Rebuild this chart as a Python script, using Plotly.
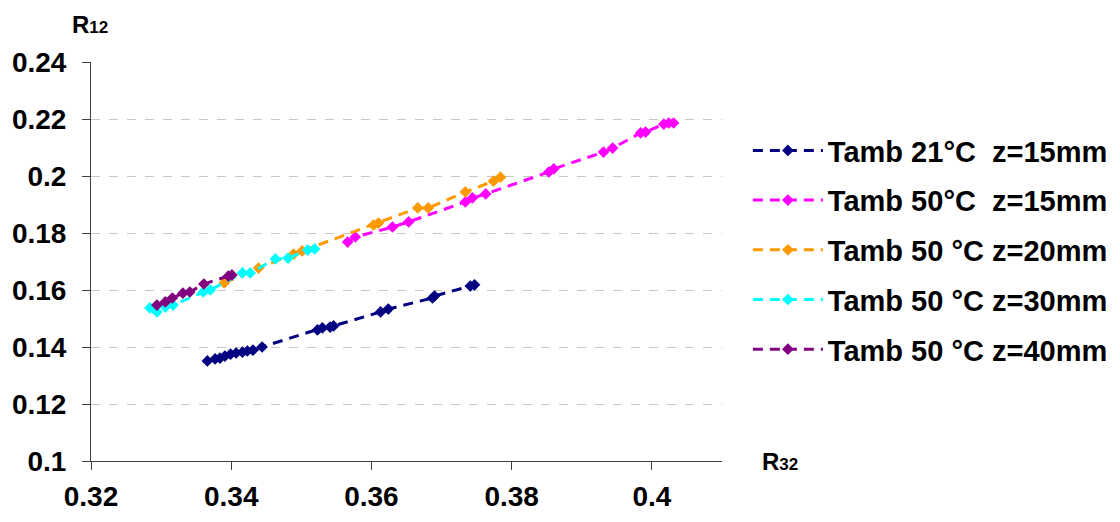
import plotly.graph_objects as go

# ---- data (R32, R12) ----
names = [
    "Tamb 21°C\u00a0\u00a0z=15mm",
    "Tamb 50°C\u00a0\u00a0z=15mm",
    "Tamb 50 °C z=20mm",
    "Tamb 50 °C z=30mm",
    "Tamb 50 °C z=40mm",
]
colors = ["#000080", "#FF00FF", "#FF9900", "#00FFFF", "#800080"]

x_21_15 = [0.3366, 0.3377, 0.3384, 0.3391, 0.3399, 0.3407, 0.3416, 0.3423, 0.3431, 0.3444,
           0.3523, 0.3530, 0.3541, 0.3546, 0.3613, 0.3624, 0.3687, 0.3690, 0.3741, 0.3747]
y_21_15 = [0.1351, 0.1358, 0.1361, 0.1368, 0.1375, 0.1379, 0.1382, 0.1386, 0.1389, 0.1400,
           0.1460, 0.1467, 0.1470, 0.1474, 0.1523, 0.1533, 0.1572, 0.1579, 0.1614, 0.1618]

x_50_15 = [0.3566, 0.3577, 0.3630, 0.3653, 0.3734, 0.3744, 0.3763, 0.3853, 0.3860,
           0.3931, 0.3944, 0.3984, 0.3991, 0.4017, 0.4024, 0.4031]
y_50_15 = [0.1768, 0.1786, 0.1821, 0.1839, 0.1909, 0.1923, 0.1937, 0.2014, 0.2025,
           0.2084, 0.2098, 0.2151, 0.2154, 0.2182, 0.2186, 0.2186]

x_50_20 = [0.3390, 0.3439, 0.3489, 0.3501, 0.3603, 0.3610, 0.3666, 0.3681, 0.3734, 0.3774, 0.3784]
y_50_20 = [0.1625, 0.1677, 0.1726, 0.1737, 0.1828, 0.1835, 0.1888, 0.1888, 0.1944, 0.1982, 0.1996]

x_50_30 = [0.3284, 0.3294, 0.3306, 0.3317, 0.3360, 0.3370, 0.3416, 0.3427, 0.3463, 0.3481, 0.3509, 0.3519]
y_50_30 = [0.1537, 0.1523, 0.1540, 0.1547, 0.1593, 0.1600, 0.1660, 0.1660, 0.1709, 0.1712, 0.1740, 0.1744]

x_50_40 = [0.3294, 0.3306, 0.3316, 0.3331, 0.3341, 0.3361, 0.3396, 0.3401]
y_50_40 = [0.1547, 0.1558, 0.1572, 0.1589, 0.1593, 0.1621, 0.1649, 0.1653]

xs = [x_21_15, x_50_15, x_50_20, x_50_30, x_50_40]
ys = [y_21_15, y_50_15, y_50_20, y_50_30, y_50_40]

x_ticks = [0.32, 0.34, 0.36, 0.38, 0.40]
x_ticklabels = ["0.32", "0.34", "0.36", "0.38", "0.4"]
y_ticks = [0.10, 0.12, 0.14, 0.16, 0.18, 0.20, 0.22, 0.24]
y_ticklabels = ["0.1", "0.12", "0.14", "0.16", "0.18", "0.2", "0.22", "0.24"]

FONT = "Liberation Sans, Arial, sans-serif"

fig = go.Figure()
for i in range(len(names)):
    fig.add_trace(go.Scatter(
        x=xs[i], y=ys[i], name=names[i], mode="lines+markers",
        legendgroup=str(i),
        line=dict(color=colors[i], width=3, dash="10px,7px"),
        marker=dict(symbol="diamond", size=9, color=colors[i]),
    ))

fig.update_layout(
    width=1120, height=522,
    margin=dict(l=83, r=406, t=54, b=69, autoexpand=False),
    plot_bgcolor="white", paper_bgcolor="white",
    font=dict(family=FONT, size=24, color="black"),
    showlegend=True,
    legend=dict(
        x=1.041, y=0.842, xanchor="left", yanchor="top",
        font=dict(family=FONT, size=29, color="black", weight="bold"),
        traceorder="grouped", tracegroupgap=9, itemwidth=70,
        bgcolor="rgba(0,0,0,0)",
    ),
    xaxis=dict(
        range=[0.32, 0.41], tickvals=x_ticks, ticktext=x_ticklabels,
        showgrid=False, zeroline=False, showline=True, linecolor="#404040", linewidth=1,
        ticks="outside", ticklen=8, tickcolor="#404040", automargin=False,
        tickfont=dict(family=FONT, size=28, color="black", weight="bold"),
        ticklabelstandoff=2,
    ),
    yaxis=dict(
        range=[0.10, 0.24], tickvals=y_ticks, ticktext=y_ticklabels,
        showgrid=True, gridcolor="#c8c8c8", griddash="dash", gridwidth=1,
        zeroline=False, showline=True, linecolor="#404040", linewidth=1,
        ticks="outside", ticklen=8, tickcolor="#404040", automargin=False,
        tickfont=dict(family=FONT, size=28, color="black", weight="bold"),
        ticklabelstandoff=10,
    ),
    annotations=[
        dict(text="<b>R<span style='font-size:17px'>12</span></b>", xref="paper", yref="paper",
             x=(70 - 91) / 631, y=1 + 22 / 399, xanchor="left", yanchor="bottom",
             showarrow=False, font=dict(family=FONT, size=24, color="black")),
        dict(text="<b>R<span style='font-size:17px'>32</span></b>", xref="paper", yref="paper",
             x=(760 - 91) / 631, y=-16 / 399, xanchor="left", yanchor="bottom",
             showarrow=False, font=dict(family=FONT, size=24, color="black")),
    ],
)

fig.write_html("out.html")
